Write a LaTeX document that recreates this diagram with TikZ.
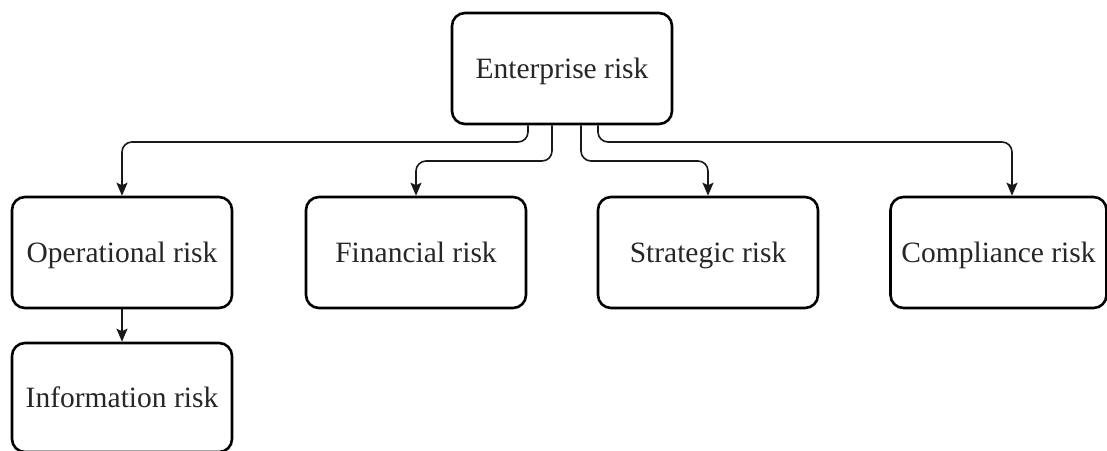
\documentclass[tikz,border=0pt]{standalone}
\usepackage{fontspec}
\setmainfont{Liberation Serif}
\usetikzlibrary{arrows.meta}
\begin{document}
\begin{tikzpicture}[x=1pt,y=-1pt,
  riskbox/.style={draw=black, line width=2.6pt, rounded corners=13pt,
    minimum width=220pt, minimum height=111pt, inner sep=0pt,
    text height=23pt, text depth=3pt,
    font=\fontsize{29.5}{33}\selectfont, text=black!85},
  conn/.style={draw=black!90, line width=1.6pt, rounded corners=10pt,
    -{Stealth[length=13pt,width=11pt,inset=2.5pt]}}]
  \useasboundingbox (0,0) rectangle (1107,450);
  \clip (0,0) rectangle (1107,450);
  % boxes
  \node[riskbox] (E) at (562,68.5) {Enterprise risk};
  \node[riskbox] (O) at (122,252.5) {Operational risk};
  \node[riskbox] (F) at (416,252.5) {Financial risk};
  \node[riskbox] (S) at (708,252.5) {Strategic risk};
  \node[riskbox, minimum width=216pt] (C) at (998.5,252.5) {Compliance risk};
  \node[riskbox, minimum height=109pt] (I) at (122,397.5) {Information risk};
  % routing levels below the top box
  \coordinate (lvlA) at (0,142);
  \coordinate (lvlB) at (0,161);
  \coordinate (Cin) at ([xshift=13.5pt]C.north);
  % connectors
  \draw[conn] ([xshift=-34pt]E.south) |- (lvlA -| O.north) -- (O.north);
  \draw[conn] ([xshift=-10pt]E.south) |- (lvlB -| F.north) -- (F.north);
  \draw[conn] ([xshift=19pt]E.south) |- (lvlB -| S.north) -- (S.north);
  \draw[conn] ([xshift=36pt]E.south) |- (lvlA -| Cin) -- (Cin);
  \draw[conn] (O.south) -- (I.north);
\end{tikzpicture}
\end{document}
